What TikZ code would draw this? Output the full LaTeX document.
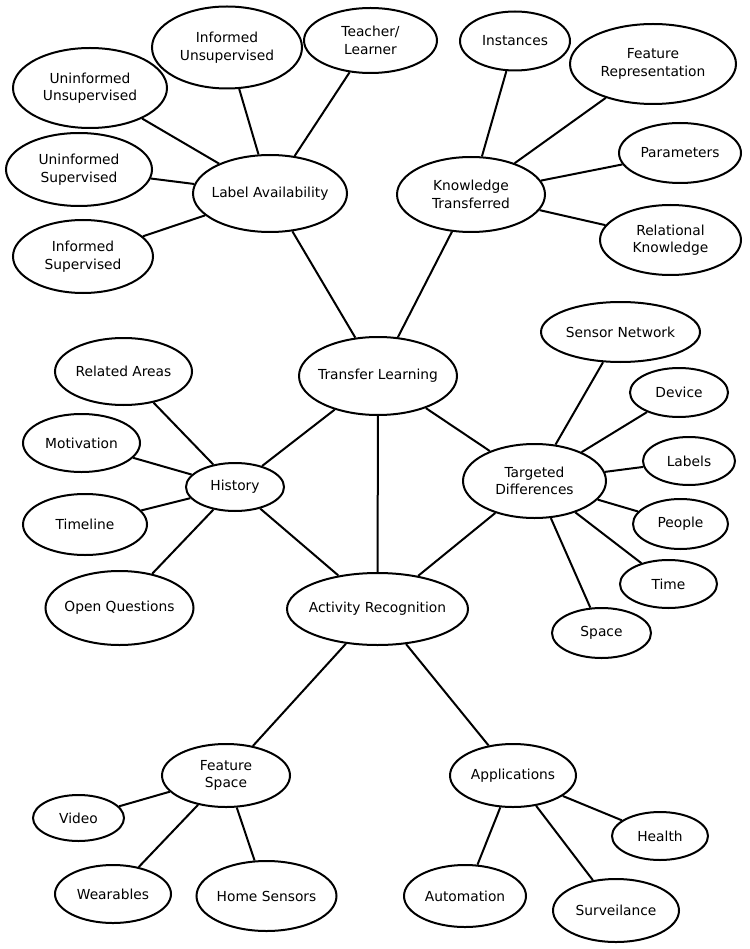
\documentclass[tikz,border=0pt]{standalone}
\usepackage{fontspec}
\setmainfont{DejaVu Sans}
\usetikzlibrary{shapes,positioning}

\begin{document}
\begin{tikzpicture}[
    x=1pt, y=-1pt,
    blob/.style={draw, ellipse, line width=2pt, inner sep=-40pt, align=center, font=\fontsize{13.8}{17.5}\selectfont},
    wh/.style 2 args={minimum width=#1pt, minimum height=#2pt},
    link/.style={line width=2pt},
  ]
    \useasboundingbox (0,0) rectangle (749,949);

    % hubs
    \node[blob, wh={158}{78}] (transfer) at (378,376) {Transfer Learning};
    \node[blob, wh={181}{72}] (activity) at (377.5,609) {Activity Recognition};
    \node[blob, wh={154}{77}] (labelav) at (270,193.5) {Label Availability};
    \node[blob, wh={148}{75}] (knowledge) at (471,194.5) {Knowledge\\Transferred};
    \node[blob, wh={98}{48}] (history) at (235,487) {History};
    \node[blob, wh={143}{74}] (targeted) at (534.5,481) {Targeted\\Differences};
    \node[blob, wh={128}{63}] (featsp) at (226,775.5) {Feature\\Space};
    \node[blob, wh={126}{63}] (apps) at (513,775.5) {Applications};

    % label availability
    \node[blob, wh={150}{82}] (infunsup) at (227,47.5) {Informed\\Unsupervised};
    \node[blob, wh={133}{65}] (teacher) at (370.5,40.5) {Teacher/\\Learner};
    \node[blob, wh={154}{80}] (uninfunsup) at (90,88) {Uninformed\\Unsupervised};
    \node[blob, wh={146}{73}] (uninfsup) at (79,169.5) {Uninformed\\Supervised};
    \node[blob, wh={140}{73}] (infsup) at (83,256.5) {Informed\\Supervised};

    % knowledge transferred
    \node[blob, wh={110}{59}] (instances) at (515,41) {Instances};
    \node[blob, wh={166}{80}] (featrep) at (653,64) {Feature\\Representation};
    \node[blob, wh={122}{60}] (params) at (680,153) {Parameters};
    \node[blob, wh={141}{70}] (relational) at (670.5,240) {Relational\\Knowledge};

    % targeted differences
    \node[blob, wh={159}{60}] (sensornet) at (620.5,332) {Sensor Network};
    \node[blob, wh={98}{49}] (device) at (679,392.5) {Device};
    \node[blob, wh={92}{48}] (labels) at (689,461) {Labels};
    \node[blob, wh={95}{50}] (people) at (680.5,524) {People};
    \node[blob, wh={97}{48}] (time) at (668.5,584) {Time};
    \node[blob, wh={99}{50}] (space) at (601.5,633) {Space};

    % history
    \node[blob, wh={137}{67}] (related) at (123.5,371.5) {Related Areas};
    \node[blob, wh={117}{58}] (motivation) at (81.5,443) {Motivation};
    \node[blob, wh={124}{61}] (timeline) at (85,524.5) {Timeline};
    \node[blob, wh={148}{74}] (openq) at (119.5,608) {Open Questions};

    % feature space
    \node[blob, wh={91}{46}] (video) at (78.5,818) {Video};
    \node[blob, wh={116}{58}] (wearables) at (113,894) {Wearables};
    \node[blob, wh={140}{70}] (homesens) at (266.5,896) {Home Sensors};

    % applications
    \node[blob, wh={96}{48}] (health) at (660,836) {Health};
    \node[blob, wh={122}{62}] (automation) at (465,896) {Automation};
    \node[blob, wh={126}{63}] (surveil) at (616,910.5) {Surveilance};

    \foreach \a/\b in {transfer/labelav, transfer/knowledge, transfer/activity, transfer/history, transfer/targeted,
                       activity/history, activity/targeted, activity/featsp, activity/apps,
                       labelav/infunsup, labelav/teacher, labelav/uninfunsup, labelav/uninfsup, labelav/infsup,
                       knowledge/instances, knowledge/featrep, knowledge/params, knowledge/relational,
                       targeted/sensornet, targeted/device, targeted/labels, targeted/people, targeted/time, targeted/space,
                       history/related, history/motivation, history/timeline, history/openq,
                       featsp/video, featsp/wearables, featsp/homesens,
                       apps/health, apps/automation, apps/surveil}
      \draw[link] (\a) -- (\b);
  \end{tikzpicture}
\end{document}
